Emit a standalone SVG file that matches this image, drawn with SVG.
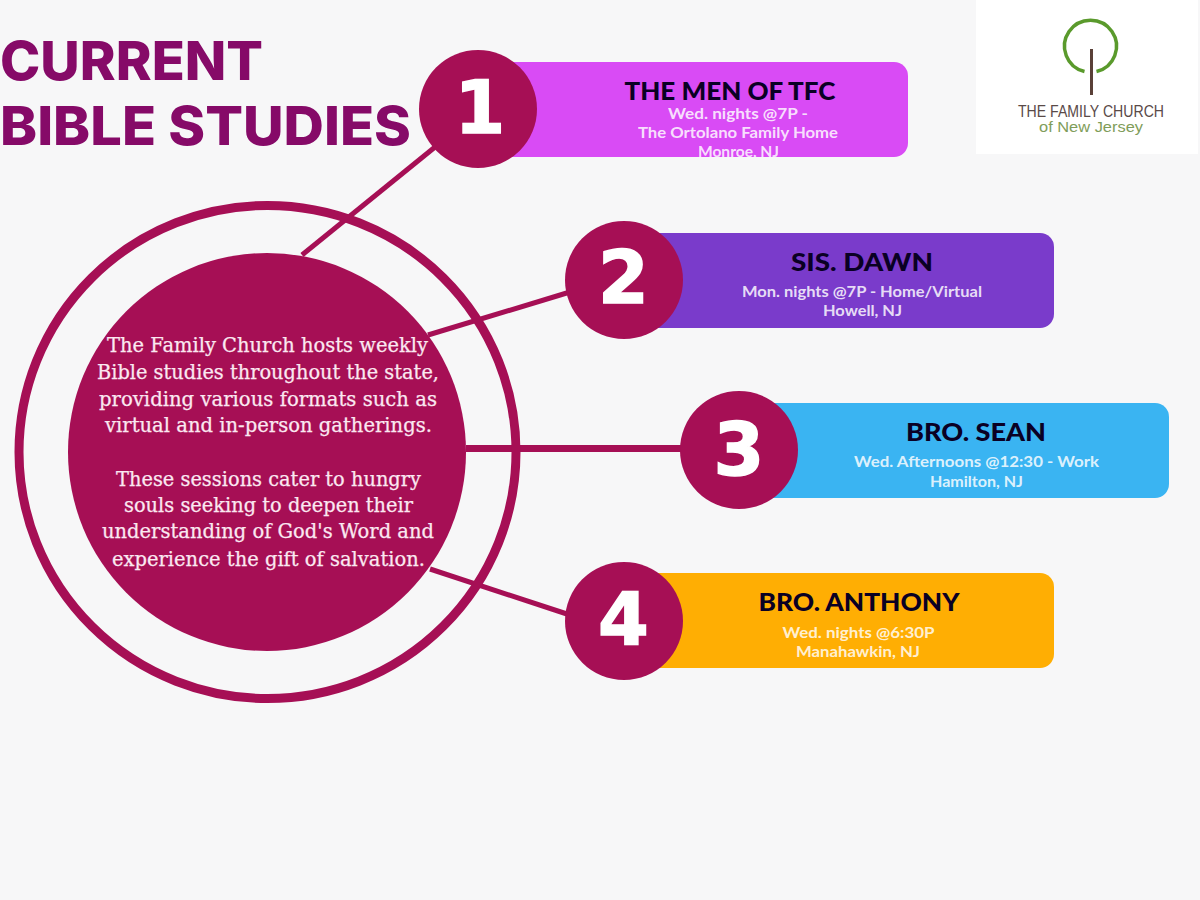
<svg xmlns="http://www.w3.org/2000/svg" width="1200" height="900" viewBox="0 0 1200 900">
<style>
.title{font-family:"Inter","Liberation Sans",sans-serif;font-weight:800;font-size:54px;fill:#860a68}
.num{font-family:"DejaVu Sans","Liberation Sans",sans-serif;font-weight:700;font-size:73px;fill:#fff;stroke:#fff;stroke-width:1.500px;text-anchor:middle}
.head{font-family:"Lato","Liberation Sans",sans-serif;font-weight:900;font-size:25px;fill:#0a0024;text-anchor:middle}
.sub{font-family:"Lato","Liberation Sans",sans-serif;font-weight:700;font-size:15.500px;fill:#fff;fill-opacity:.84;text-anchor:middle}
.body{font-family:"DejaVu Serif","Liberation Serif",serif;font-size:20px;fill:#fbe8f1;stroke:#fbe8f1;stroke-width:.25px;text-anchor:middle}
.badge{fill:#a60f55}
.link{stroke:#a60f55;stroke-width:5;fill:none}
</style>
<defs>
<clipPath id="pillclip"><rect x="500" y="62" width="408" height="95" rx="14"/></clipPath>
</defs>
<rect width="1200" height="900" fill="#f7f7f8"/>
<g id="logo">
<rect x="976" y="0" width="222" height="154" fill="#fff"/>
<path d="M1084.500 71.500A26 26 0 1 1 1096.500 71.500" fill="none" stroke="#5a9a2c" stroke-width="3.500"/>
<line x1="1091.500" y1="49" x2="1091.500" y2="95" stroke="#5a4038" stroke-width="3"/>
<text x="1091" y="117" font-family="Liberation Sans,sans-serif" font-size="16" fill="#5a4a48" text-anchor="middle" textLength="146" lengthAdjust="spacingAndGlyphs">THE FAMILY CHURCH</text>
<text x="1091" y="132" font-family="Liberation Sans,sans-serif" font-size="15" fill="#7f9d5a" text-anchor="middle" textLength="104" lengthAdjust="spacingAndGlyphs">of New Jersey</text>
</g>
<g id="title">
<text class="title" x="0" y="80" textLength="263" lengthAdjust="spacingAndGlyphs">CURRENT</text>
<text class="title" x="0" y="145" textLength="411" lengthAdjust="spacingAndGlyphs">BIBLE STUDIES</text>
</g>
<g id="connectors">
<line class="link" x1="302" y1="255" x2="440" y2="143"/>
<line class="link" x1="428" y1="335" x2="570" y2="292"/>
<line class="link" style="stroke-width:7" x1="466" y1="448.500" x2="684" y2="448.500"/>
<line class="link" x1="430" y1="569" x2="570" y2="615"/>
</g>
<g id="hub">
<ellipse cx="267.500" cy="452" rx="248.500" ry="246.500" fill="none" stroke="#a60f55" stroke-width="9"/>
<circle cx="267" cy="452" r="199" fill="#a60f55"/>
<text class="body"><tspan x="267.500" y="352" textLength="321" lengthAdjust="spacingAndGlyphs">The Family Church hosts weekly</tspan><tspan x="268" y="379" textLength="342" lengthAdjust="spacingAndGlyphs">Bible studies throughout the state,</tspan><tspan x="268" y="406" textLength="338" lengthAdjust="spacingAndGlyphs">providing various formats such as</tspan><tspan x="268.500" y="432" textLength="327" lengthAdjust="spacingAndGlyphs">virtual and in-person gatherings.</tspan><tspan x="268.500" y="486" textLength="305" lengthAdjust="spacingAndGlyphs">These sessions cater to hungry</tspan><tspan x="268.500" y="512" textLength="289" lengthAdjust="spacingAndGlyphs">souls seeking to deepen their</tspan><tspan x="268" y="538" textLength="332" lengthAdjust="spacingAndGlyphs">understanding of God's Word and</tspan><tspan x="268.500" y="566" textLength="313" lengthAdjust="spacingAndGlyphs">experience the gift of salvation.</tspan></text>
</g>
<g id="node1">
<rect x="500" y="62" width="408" height="95" rx="14" fill="#d94bf5"/>
<circle class="badge" cx="478" cy="109" r="59"/>
<text class="num" x="480" y="133">1</text>
<text class="head" x="730" y="100" textLength="211" lengthAdjust="spacingAndGlyphs">THE MEN OF TFC</text>
<text class="sub" x="738" y="119" textLength="140" lengthAdjust="spacingAndGlyphs">Wed. nights @7P -</text>
<text class="sub" x="738" y="138" textLength="200" lengthAdjust="spacingAndGlyphs">The Ortolano Family Home</text>
<text class="sub" x="738.500" y="157" textLength="81" lengthAdjust="spacingAndGlyphs" clip-path="url(#pillclip)">Monroe, NJ</text>
</g>
<g id="node2">
<rect x="640" y="233" width="414" height="95" rx="14" fill="#7a3bcb"/>
<circle class="badge" cx="624" cy="280" r="59"/>
<text class="num" x="623.500" y="303">2</text>
<text class="head" x="862" y="271" textLength="142" lengthAdjust="spacingAndGlyphs">SIS. DAWN</text>
<text class="sub" x="862" y="297" textLength="240" lengthAdjust="spacingAndGlyphs">Mon. nights @7P - Home/Virtual</text>
<text class="sub" x="862.500" y="316" textLength="79" lengthAdjust="spacingAndGlyphs">Howell, NJ</text>
</g>
<g id="node3">
<rect x="755" y="403" width="414" height="95" rx="14" fill="#3ab4f2"/>
<circle class="badge" cx="739" cy="450" r="59"/>
<text class="num" x="739" y="475">3</text>
<text class="head" x="976" y="441" textLength="140" lengthAdjust="spacingAndGlyphs">BRO. SEAN</text>
<text class="sub" x="976.500" y="467" textLength="245" lengthAdjust="spacingAndGlyphs">Wed. Afternoons @12:30 - Work</text>
<text class="sub" x="976.500" y="487" textLength="93" lengthAdjust="spacingAndGlyphs">Hamilton, NJ</text>
</g>
<g id="node4">
<rect x="640" y="573" width="414" height="95" rx="14" fill="#ffae03"/>
<circle class="badge" cx="624" cy="621" r="59"/>
<text class="num" x="623.500" y="645">4</text>
<text class="head" x="859" y="611" textLength="201" lengthAdjust="spacingAndGlyphs">BRO. ANTHONY</text>
<text class="sub" x="858.500" y="638" textLength="152" lengthAdjust="spacingAndGlyphs">Wed. nights @6:30P</text>
<text class="sub" x="858" y="657" textLength="124" lengthAdjust="spacingAndGlyphs">Manahawkin, NJ</text>
</g>
</svg>
